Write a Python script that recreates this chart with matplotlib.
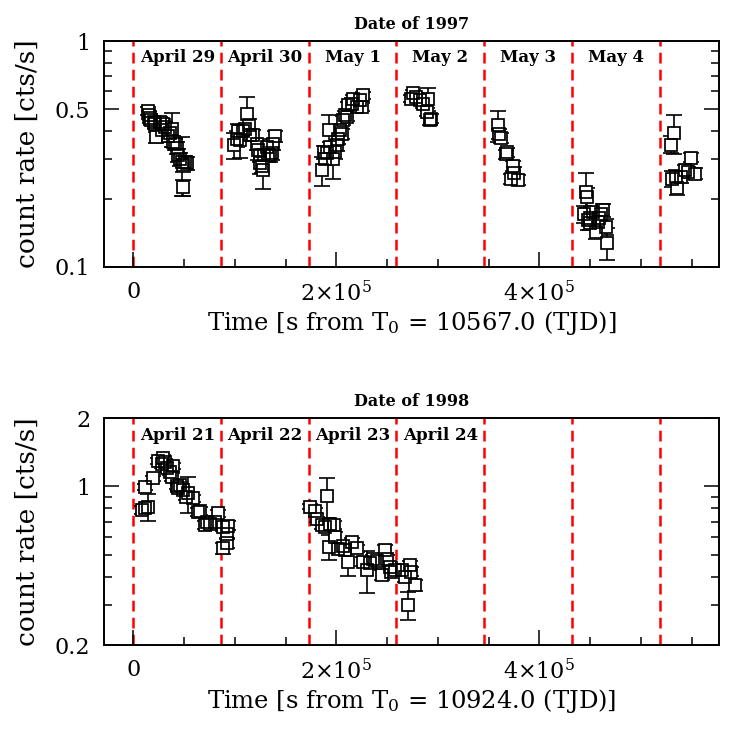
import numpy as np
import matplotlib
matplotlib.use("Agg")
import matplotlib.pyplot as plt
from matplotlib.ticker import FixedLocator, FixedFormatter, NullFormatter, MultipleLocator

plt.rcParams['font.family'] = ['DejaVu Serif']
plt.rcParams['mathtext.fontset'] = 'dejavuserif'

DAY = 86400.0

# ---------------- data (time in units of 1e4 s, count rate in cts/s) ----------------
t97 = [1.48, 1.55, 1.64, 1.71, 2.0, 2.14, 2.2, 2.63, 2.8, 2.95, 3.12, 3.44, 3.6, 3.78, 3.94, 4.1,
       4.27, 4.43, 4.6, 4.76, 4.92, 5.1, 5.26, 4.92,
       9.9, 10.2, 10.35, 10.5, 10.8, 11.0, 11.2, 11.35, 11.5, 11.8, 12.15, 12.3, 12.45, 12.5, 12.65,
       12.8, 12.9, 13.13, 13.3, 13.45, 13.62, 13.78, 13.95,
       18.54, 18.77, 18.87, 19.1, 19.29, 19.36, 19.69, 19.85, 20.02, 20.2, 20.34, 20.51, 20.67, 20.85,
       21.00, 21.16, 21.50, 21.65, 21.99, 22.31, 22.48, 22.58,
       27.4, 27.56, 27.89, 28.22, 28.54, 29.04, 28.88, 29.20, 29.37,
       35.93, 36.02, 36.26, 36.75, 36.81, 37.24, 37.40, 37.50, 37.89,
       44.36, 44.56, 44.69, 44.78, 44.95, 45.0, 45.28, 45.61, 45.77, 45.9, 46.10, 46.26, 46.52, 46.65,
       52.99, 53.09, 53.25, 53.48, 53.54, 53.98, 54.31, 54.63, 54.96, 55.29]
rate97 = [0.49, 0.47, 0.455, 0.445, 0.44, 0.43, 0.375, 0.44, 0.403, 0.43, 0.416, 0.378, 0.39, 0.41, 0.358, 0.35,
          0.336, 0.312, 0.30, 0.292, 0.282, 0.29, 0.288, 0.225,
          0.345, 0.37, 0.398, 0.364, 0.40, 0.41, 0.476, 0.424, 0.383, 0.383, 0.35, 0.328, 0.312, 0.288, 0.28,
          0.268, 0.312, 0.339, 0.312, 0.312, 0.318, 0.35, 0.378,
          0.268, 0.322, 0.302, 0.32, 0.405, 0.339, 0.302, 0.322, 0.345, 0.37, 0.403, 0.388, 0.446, 0.47,
          0.461, 0.519, 0.527, 0.556, 0.511, 0.547, 0.511, 0.575,
          0.556, 0.589, 0.567, 0.547, 0.527, 0.556, 0.486, 0.446, 0.453,
          0.424, 0.388, 0.372, 0.315, 0.322, 0.246, 0.280, 0.261, 0.242,
          0.172, 0.215, 0.203, 0.161, 0.156, 0.165, 0.175, 0.143, 0.158, 0.165, 0.172, 0.178, 0.151, 0.128,
          0.348, 0.246, 0.393, 0.250, 0.224, 0.250, 0.268, 0.263, 0.305, 0.259]
err97 = [0.02, 0.02, 0.02, 0.02, 0.02, 0.02, 0.02, 0.02, 0.02, 0.02, 0.02, 0.02, 0.02, 0.07, 0.02, 0.02,
         0.02, 0.02, 0.02, 0.085, 0.02, 0.02, 0.02, 0.018,
         0.045, 0.03, 0.03, 0.06, 0.02, 0.02, 0.09, 0.03, 0.02, 0.02, 0.02, 0.03, 0.02, 0.03, 0.02,
         0.046, 0.02, 0.02, 0.02, 0.02, 0.02, 0.02, 0.02,
         0.04, 0.02, 0.02, 0.02, 0.067, 0.02, 0.057, 0.02, 0.02, 0.02, 0.02, 0.02, 0.02, 0.02,
         0.02, 0.02, 0.03, 0.02, 0.02, 0.02, 0.02, 0.02,
         0.02, 0.02, 0.02, 0.02, 0.02, 0.064, 0.02, 0.02, 0.02,
         0.065, 0.02, 0.02, 0.015, 0.015, 0.012, 0.015, 0.015, 0.012,
         0.015, 0.046, 0.02, 0.015, 0.01, 0.01, 0.01, 0.01, 0.01, 0.01, 0.012, 0.012, 0.012, 0.021,
         0.03, 0.02, 0.076, 0.02, 0.015, 0.015, 0.015, 0.015, 0.015, 0.015]

t98 = [0.83, 1.15, 1.48, 1.15, 1.91, 2.46, 2.8, 2.95, 3.12, 3.3, 3.61, 3.78, 3.94, 4.27, 4.4, 4.60,
       4.92, 5.2, 5.41, 5.91, 6.40, 6.56, 7.06, 7.3, 7.55, 8.04, 8.37, 8.80, 8.86, 9.19, 9.19, 9.35,
       17.39, 17.88, 18.05, 18.54, 18.87, 19.04, 19.29, 19.36, 19.78, 19.85, 20.18, 20.67, 20.84,
       21.10, 21.56, 21.99, 22.64, 22.97, 23.30, 23.62, 23.96, 24.45, 24.77, 24.94, 25.27, 25.43,
       25.76, 26.42, 26.74, 27.07, 27.24, 27.40, 27.72]
rate98 = [0.786, 0.80, 0.813, 0.995, 1.084, 1.293, 1.25, 1.329, 1.284, 1.2, 1.16, 1.10, 1.233, 1.0, 0.98, 1.013,
          0.963, 0.90, 0.931, 0.885, 0.773, 0.781, 0.676, 0.70, 0.680, 0.698, 0.760, 0.664, 0.533, 0.617, 0.565, 0.671,
          0.813, 0.781, 0.716, 0.676, 0.664, 0.906, 0.542, 0.683, 0.676, 0.600, 0.528, 0.546, 0.524,
          0.466, 0.570, 0.533, 0.466, 0.428, 0.458, 0.477, 0.470, 0.407, 0.524, 0.477, 0.443, 0.421,
          0.428, 0.428, 0.400, 0.300, 0.450, 0.421, 0.367]
err98 = [0.03, 0.03, 0.11, 0.03, 0.03, 0.04, 0.04, 0.04, 0.04, 0.04, 0.04, 0.04, 0.04, 0.03, 0.03, 0.03,
         0.03, 0.03, 0.17, 0.03, 0.03, 0.03, 0.03, 0.03, 0.03, 0.03, 0.03, 0.03, 0.03, 0.03, 0.03, 0.03,
         0.02, 0.02, 0.02, 0.03, 0.03, 0.178, 0.07, 0.03, 0.03, 0.03, 0.02, 0.02, 0.02,
         0.063, 0.02, 0.02, 0.02, 0.09, 0.02, 0.02, 0.02, 0.02, 0.025, 0.02, 0.02, 0.02,
         0.02, 0.02, 0.02, 0.042, 0.02, 0.02, 0.02]

days97 = ["April 29", "April 30", "May 1", "May 2", "May 3", "May 4"]
days98 = ["April 21", "April 22", "April 23", "April 24"]
n_day_lines = 7

title97 = "Date of 1997"
title98 = "Date of 1998"
xlabel97 = r"Time [s from T$_0$ = 10567.0 (TJD)]"
xlabel98 = r"Time [s from T$_0$ = 10924.0 (TJD)]"
ylabel = "count rate [cts/s]"

xticks = [0, 2e5, 4e5]
xticklabels = ["0", r"$2{\times}10^5$", r"$4{\times}10^5$"]
yticks97 = [0.1, 0.5, 1]
yticklabels97 = ["0.1", "0.5", "1"]
yminor97 = [0.2, 0.3, 0.4, 0.6, 0.7, 0.8, 0.9]
yticks98 = [0.2, 1, 2]
yticklabels98 = ["0.2", "1", "2"]
yminor98 = [0.3, 0.4, 0.5, 0.6, 0.7, 0.8, 0.9]

# ---------------- figure ----------------
fig = plt.figure(figsize=(7.47, 7.47), dpi=100)
ax1 = fig.add_axes([0.1392, 0.6426, 0.8233, 0.3025])
ax2 = fig.add_axes([0.1392, 0.1365, 0.8233, 0.3039])


def panel(ax, t, r, e, days, ylim, yt, ytl, ymin, title, xlabel):
    x = np.array(t) * 1e4
    r = np.array(r)
    e = np.array(e)
    ax.set_yscale('log')
    ax.errorbar(x, r, yerr=e, fmt='none', ecolor='black', elinewidth=1.2,
                capsize=5.5, capthick=1.2, zorder=2)
    ax.plot(x, r, 's', ms=8.3, mfc='white', mec='none', zorder=3)
    ax.plot(x, r, 's', ms=8.3, mfc='none', mec='black', mew=1.25, zorder=4)
    for k in range(n_day_lines):
        ax.axvline(k * DAY, color='#ff0000', lw=1.8, ls=(0, (4.3, 2.5)), zorder=1)
    for k, d in enumerate(days):
        ax.text((k + 0.5) * DAY, 0.925, d, transform=ax.get_xaxis_transform(),
                ha='center', va='center', fontsize=12, fontweight='bold')
    ax.set_xlim(-2.9e4, 5.77e5)
    ax.set_ylim(*ylim)
    ax.yaxis.set_major_locator(FixedLocator(yt))
    ax.yaxis.set_major_formatter(FixedFormatter(ytl))
    ax.yaxis.set_minor_locator(FixedLocator(ymin))
    ax.yaxis.set_minor_formatter(NullFormatter())
    ax.xaxis.set_major_locator(FixedLocator(xticks))
    ax.xaxis.set_major_formatter(FixedFormatter(xticklabels))
    ax.xaxis.set_minor_locator(MultipleLocator(5e4))
    ax.tick_params(which='both', direction='in', left=True, right=True, top=False, bottom=True,
                   width=1.1, labelsize=16, pad=10)
    ax.tick_params(which='major', length=11)
    ax.tick_params(which='minor', length=5.5)
    for s in ax.spines.values():
        s.set_linewidth(1.4)
    ax.set_title(title, fontsize=11.5, fontweight='bold', pad=9)
    ax.set_xlabel(xlabel, fontsize=17.5, labelpad=2)
    ax.set_ylabel(ylabel, fontsize=19, labelpad=11)


panel(ax1, t97, rate97, err97, days97, (0.1, 1.0), yticks97, yticklabels97, yminor97, title97, xlabel97)
panel(ax2, t98, rate98, err98, days98, (0.2, 2.0), yticks98, yticklabels98, yminor98, title98, xlabel98)

fig.savefig("out.png", dpi=100)
